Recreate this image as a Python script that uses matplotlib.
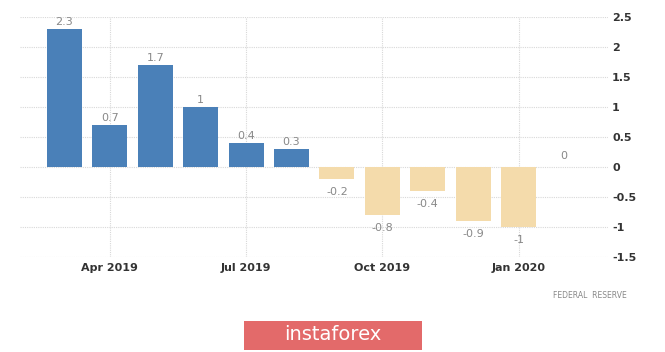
import numpy as np
import matplotlib.pyplot as plt
from matplotlib.patches import Rectangle

months = ['Mar 2019', 'Apr 2019', 'May 2019', 'Jun 2019', 'Jul 2019', 'Aug 2019',
          'Sep 2019', 'Oct 2019', 'Nov 2019', 'Dec 2019', 'Jan 2020', 'Feb 2020']
values = [2.3, 0.7, 1.7, 1.0, 0.4, 0.3, -0.2, -0.8, -0.4, -0.9, -1.0, 0.0]
labels = ['2.3', '0.7', '1.7', '1', '0.4', '0.3', '-0.2', '-0.8', '-0.4', '-0.9', '-1', '0']
tick_idx = [1, 4, 7, 10]
yticks = [2.5, 2, 1.5, 1, 0.5, 0, -0.5, -1, -1.5]
ytick_labels = ['2.5', '2', '1.5', '1', '0.5', '0', '-0.5', '-1', '-1.5']

fig = plt.figure(figsize=(6.65, 3.52), dpi=100)
ax = fig.add_axes([20 / 665, 1 - 257 / 352, 588 / 665, 240 / 352])

x = np.arange(len(values))
colors = ['#4a80b8' if v > 0 else '#f4dbab' for v in values]
ax.bar(x, values, width=0.77, color=colors, zorder=2)

for xi, v, lab in zip(x, values, labels):
    if v > 0:
        ax.text(xi, v + 0.04, lab, ha='center', va='bottom', fontsize=8, color='#888888')
    elif v < 0:
        ax.text(xi, v - 0.14, lab, ha='center', va='top', fontsize=8, color='#888888')
    else:
        ax.text(xi, 0.1, lab, ha='center', va='bottom', fontsize=8, color='#888888')

ax.set_xlim(-0.98, 11.97)
ax.set_ylim(-1.5, 2.5)
ax.set_yticks(yticks)
ax.set_yticklabels(ytick_labels)
ax.yaxis.tick_right()
ax.set_xticks(tick_idx)
ax.set_xticklabels([months[i] for i in tick_idx])
ax.tick_params(axis='both', length=0, labelsize=8, labelcolor='#333333', pad=4)
ax.tick_params(axis='y', pad=3)
for t in ax.get_xticklabels() + ax.get_yticklabels():
    t.set_fontweight('bold')

ax.grid(True, color='#d8d8d8', linestyle=(0, (1, 1)), linewidth=0.8, zorder=0)
for s in ax.spines.values():
    s.set_visible(False)

fig.text(590 / 665, 1 - 296 / 352, 'FEDERAL  RESERVE', ha='center', va='center',
         fontsize=5.5, color='#888888')

fig.patches.append(Rectangle((244 / 665, 1 - 350 / 352), 178 / 665, 29 / 352,
                             transform=fig.transFigure, facecolor='#e36a6a',
                             edgecolor='none'))
fig.text(333 / 665, 1 - 335 / 352, 'instaforex', ha='center', va='center',
         fontsize=14, color='white')

fig.savefig('out.png', dpi=100)
